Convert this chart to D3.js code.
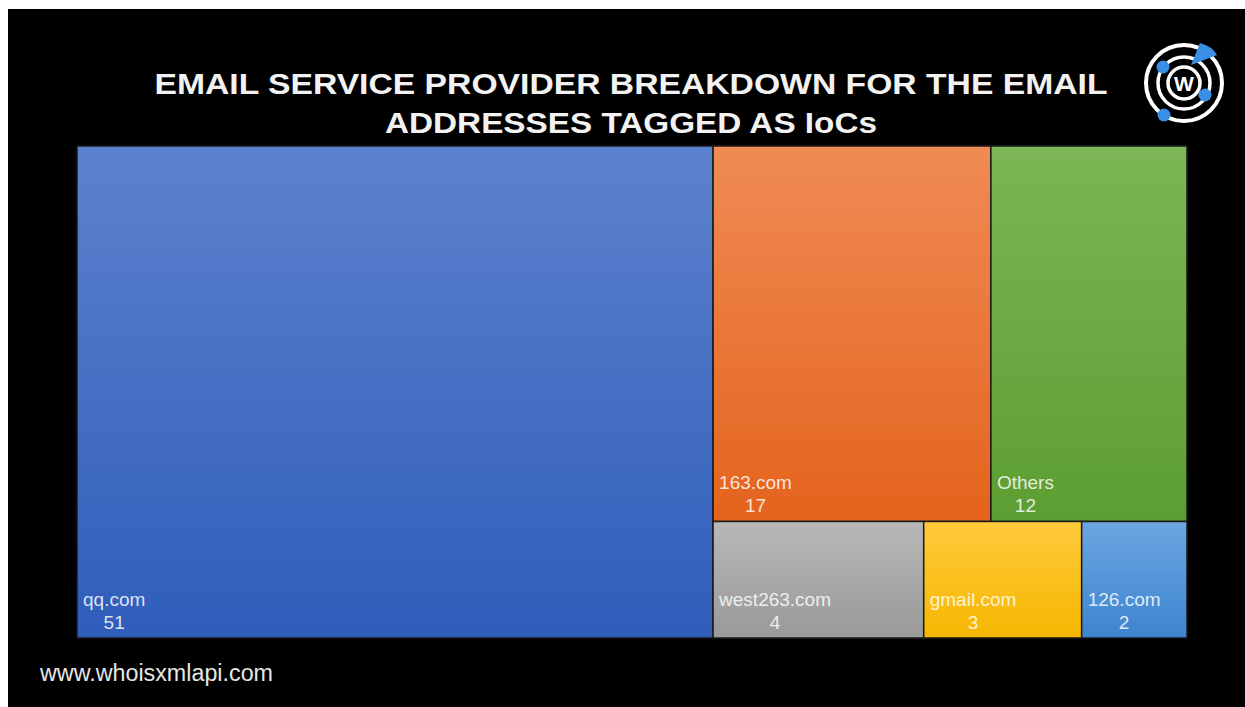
<!DOCTYPE html>
<html>
<head>
<meta charset="utf-8">
<script src="https://cdn.jsdelivr.net/npm/d3@7"></script>
<style>
  body { margin: 0; background: #fff; }
  svg { display: block; }
</style>
</head>
<body>
<div id="chart"></div>
<script>
var svgWidth = 1245;
var svgHeight = 707;

// data
var providers = ["qq.com", "163.com", "Others", "west263.com", "gmail.com", "126.com"];
var counts = [51, 17, 12, 4, 3, 2];
var colorTop = ["#5d82cd", "#f08b55", "#7cb656", "#b8b8b8", "#ffca3c", "#6ca6e1"];
var colorBottom = ["#2f5dba", "#e4631c", "#5c9e31", "#999999", "#f6b700", "#3d84cf"];

var titleLines = ["EMAIL SERVICE PROVIDER BREAKDOWN FOR THE EMAIL", "ADDRESSES TAGGED AS IoCs"];
var titleWidths = [953, 492];
var footer = "www.whoisxmlapi.com";

var margin = { top: 146, left: 77, right: 58, bottom: 69 };
var chartWidth = svgWidth - margin.left - margin.right;
var chartHeight = svgHeight - margin.top - margin.bottom;

var svg = d3.select("#chart")
    .append("svg")
    .attr("width", svgWidth)
    .attr("height", svgHeight);

// black slide, white strip on top and left
svg.append("rect")
    .attr("x", 8).attr("y", 9)
    .attr("width", svgWidth - 8).attr("height", svgHeight - 9)
    .attr("fill", "#000");

var defs = svg.append("defs");
providers.forEach(function (p, i) {
    var g = defs.append("linearGradient")
        .attr("id", "grad" + i)
        .attr("x1", 0).attr("y1", 0).attr("x2", 0).attr("y2", 1);
    g.append("stop").attr("offset", "0%").attr("stop-color", colorTop[i]);
    g.append("stop").attr("offset", "100%").attr("stop-color", colorBottom[i]);
});

// title
svg.append("g").selectAll("text")
    .data(titleLines)
    .enter()
    .append("text")
    .attr("x", 631)
    .attr("y", function (d, i) { return 94 + i * 39; })
    .attr("text-anchor", "middle")
    .attr("textLength", function (d, i) { return titleWidths[i]; })
    .attr("lengthAdjust", "spacingAndGlyphs")
    .attr("font-family", "Liberation Sans, Arial, sans-serif")
    .attr("font-weight", "bold")
    .attr("font-size", "29px")
    .attr("fill", "#f2f2f2")
    .text(function (d) { return d; });

// treemap
var root = d3.hierarchy({
        children: providers.map(function (p, i) { return { name: p, value: counts[i], idx: i }; })
    })
    .sum(function (d) { return d.value || 0; })
    .sort(function (a, b) { return b.value - a.value; });

d3.treemap()
    .tile(d3.treemapSquarify)
    .size([chartWidth, chartHeight])
    .round(false)(root);

var chartGroup = svg.append("g")
    .attr("transform", "translate(" + margin.left + "," + margin.top + ")");

var cell = chartGroup.selectAll("g.cell")
    .data(root.leaves())
    .enter()
    .append("g")
    .attr("class", "cell");

cell.append("rect")
    .attr("x", function (d) { return d.x0; })
    .attr("y", function (d) { return d.y0; })
    .attr("width", function (d) { return d.x1 - d.x0; })
    .attr("height", function (d) { return d.y1 - d.y0; })
    .attr("fill", function (d) { return "url(#grad" + d.data.idx + ")"; })
    .attr("stroke", "#1a1a1a")
    .attr("stroke-width", 1.5);

var nameText = cell.append("text")
    .attr("x", function (d) { return d.x0 + 6; })
    .attr("y", function (d) { return d.y1 - 32; })
    .attr("font-family", "Liberation Sans, Arial, sans-serif")
    .attr("font-size", "19px")
    .attr("fill", "rgba(255,255,255,0.84)")
    .text(function (d) { return d.data.name; });

nameText.each(function (d) { d.nameW = this.getComputedTextLength(); });

cell.append("text")
    .attr("x", function (d) { return d.x0 + 6 + d.nameW / 2; })
    .attr("y", function (d) { return d.y1 - 9; })
    .attr("text-anchor", "middle")
    .attr("font-family", "Liberation Sans, Arial, sans-serif")
    .attr("font-size", "19px")
    .attr("fill", "rgba(255,255,255,0.84)")
    .text(function (d) { return d.data.value; });

// footer
svg.append("text")
    .attr("x", 40)
    .attr("y", 681)
    .attr("font-family", "Liberation Sans, Arial, sans-serif")
    .attr("font-size", "23.3px")
    .attr("fill", "#e6e6e6")
    .text(footer);

// logo
var logo = svg.append("g").attr("transform", "translate(1184,83)");
logo.append("circle").attr("r", 38).attr("fill", "none").attr("stroke", "#fff").attr("stroke-width", 4);
logo.append("circle").attr("r", 26).attr("fill", "none").attr("stroke", "#fff").attr("stroke-width", 3.5);
logo.append("circle").attr("r", 16).attr("fill", "#000").attr("stroke", "#fff").attr("stroke-width", 3.5);
logo.append("text")
    .attr("y", 8)
    .attr("text-anchor", "middle")
    .attr("font-family", "Liberation Sans, Arial, sans-serif")
    .attr("font-weight", "bold")
    .attr("font-size", "21px")
    .attr("fill", "#fff")
    .text("W");
logo.append("path")
    .attr("d", "M7,-18 L16,-40 Q28,-37 33,-28 Z")
    .attr("fill", "#3b8ee6");
[[-21, -16], [21, 12], [-20, 32]].forEach(function (p) {
    logo.append("circle").attr("cx", p[0]).attr("cy", p[1]).attr("r", 6.5).attr("fill", "#3b8ee6");
});
</script>
</body>
</html>
